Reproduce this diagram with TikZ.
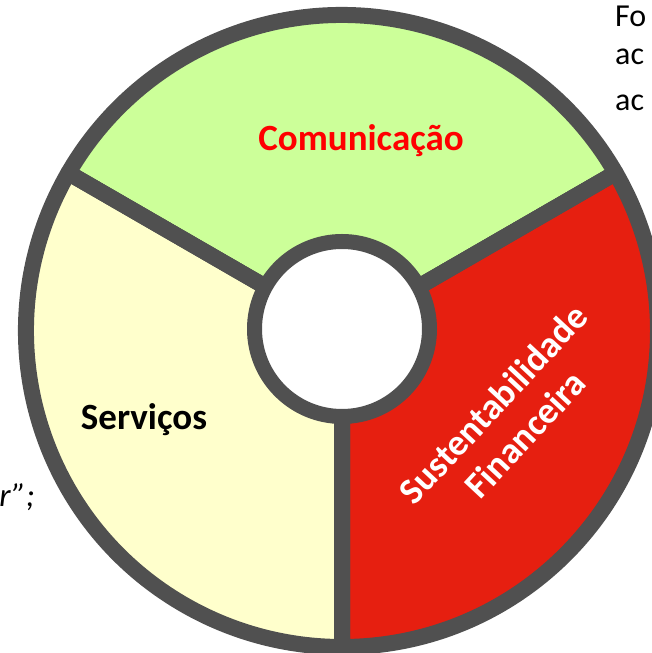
\documentclass[tikz,border=0pt]{standalone}
\usepackage{fontspec}
\setmainfont{Carlito}
\definecolor{ringgray}{RGB}{80,80,80}
\definecolor{seggreen}{RGB}{204,255,153}
\definecolor{segyellow}{RGB}{255,255,204}
\definecolor{segred}{RGB}{230,31,16}
\definecolor{txtred}{RGB}{255,0,0}
\tikzset{
  segment/.style={draw=ringgray, line width=16pt, line join=round},
  hub/.style={circle, draw=ringgray, fill=white, line width=15pt, minimum size=175pt, inner sep=0pt},
  label/.style={font=\bfseries\fontsize{37}{44}\selectfont, inner sep=0pt},
  sidetext/.style={font=\fontsize{32}{38}\selectfont, inner sep=0pt}
}
\begin{document}
\begin{tikzpicture}[x=1pt,y=1pt]
\useasboundingbox (0,0) rectangle (652,653);
\clip (0,0) rectangle (652,653);
% partially hidden side texts
\node[sidetext, anchor=base west] (t1) at (615,626) {Fo};
\node[sidetext, anchor=base west] (t2) at (615,588) {ac};
\node[sidetext, anchor=base west] (t3) at (615,542) {ac};
\node[sidetext, font=\itshape\fontsize{33}{40}\selectfont, anchor=base east] (t4) at (35,146) {r”;};
% donut segments
\begin{scope}[shift={(342,322)}]
  \coordinate (c) at (0,0);
  \fill[segment, fill=seggreen]  (30:80)  -- (30:316)  arc[start angle=30,  end angle=150, radius=316] -- (150:80) arc[start angle=150, end angle=30,  radius=80] -- cycle;
  \fill[segment, fill=segyellow] (150:80) -- (150:316) arc[start angle=150, end angle=270, radius=316] -- (270:80) arc[start angle=270, end angle=150, radius=80] -- cycle;
  \fill[segment, fill=segred]    (270:80) -- (270:316) arc[start angle=270, end angle=390, radius=316] -- (390:80) arc[start angle=390, end angle=270, radius=80] -- cycle;
  \draw[segment] (30:80) -- (30:316) (150:80) -- (150:316) (270:80) -- (270:316);
\end{scope}
\node[hub] (hub) at (342,324) {};
% labels
\node[label, text=txtred, anchor=base] (com) at (361,502) {Comunicação};
\node[label, text=black, anchor=base] (ser) at (144,223) {Serviços};
\node[label, text=white, align=center, rotate=47] (sus) at (509,234) {Sustentabilidade\\Financeira};
\end{tikzpicture}
\end{document}
